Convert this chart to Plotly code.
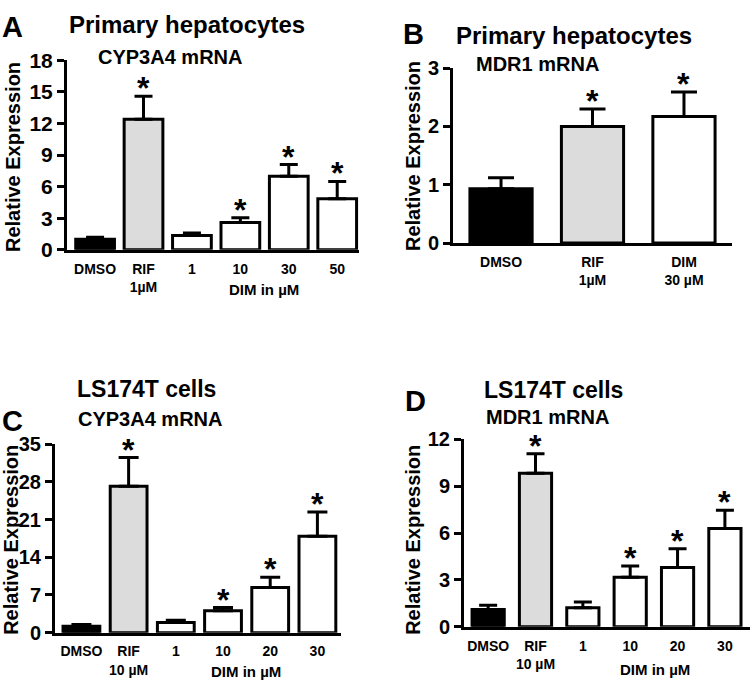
import plotly.graph_objects as go

FONT = "Liberation Sans, Arial, sans-serif"
W, H = 751, 691

# Panel A: primary hepatocytes, CYP3A4 mRNA
a_labels = ["DMSO", "RIF<br>1µM", "1", "10", "30", "50"]
a_values = [1.0, 12.4, 1.35, 2.6, 7.0, 4.85]
a_err = [0.2, 2.2, 0.25, 0.45, 1.1, 1.65]
a_stars = [False, True, False, True, True, True]

# Panel B: primary hepatocytes, MDR1 mRNA
b_labels = ["DMSO", "RIF<br>1µM", "DIM<br>30 µM"]
b_values = [0.93, 2.0, 2.17]
b_err = [0.19, 0.30, 0.42]
b_stars = [False, True, True]

# Panel C: LS174T cells, CYP3A4 mRNA
c_labels = ["DMSO", "RIF<br>10 µM", "1", "10", "20", "30"]
c_values = [1.2, 27.2, 1.9, 4.05, 8.4, 17.9]
c_err = [0.3, 5.3, 0.4, 0.6, 1.9, 4.5]
c_stars = [False, True, False, True, True, True]

# Panel D: LS174T cells, MDR1 mRNA
d_labels = ["DMSO", "RIF<br>10 µM", "1", "10", "20", "30"]
d_values = [1.11, 9.83, 1.22, 3.18, 3.8, 6.29]
d_err = [0.27, 1.24, 0.37, 0.72, 1.19, 1.17]
d_stars = [False, True, False, True, True, True]


def px(x, y):
    return x / W, 1 - y / H


# layout of each panel in screen pixels: x axis span, y axis span (bottom, top)
panels = [
    dict(s="", labels=a_labels, values=a_values, err=a_err, stars=a_stars,
         xs=(67, 359), ys=(246, 50), yr=18, dt=3, xr=(-0.58, 5.45), bw=0.8,
         tick_fs=21, cap=9, line=(1.45, 5.43), line_y=-26,
         colors=["black", "#dcdcdc"] + ["white"] * 4),
    dict(s="2", labels=b_labels, values=b_values, err=b_err, stars=b_stars,
         xs=(453, 732), ys=(239, 58), yr=3, dt=1, xr=(-0.525, 2.525), bw=0.68,
         tick_fs=20, cap=13, line=None,
         colors=["black", "#dcdcdc", "white"]),
    dict(s="3", labels=c_labels, values=c_values, err=c_err, stars=c_stars,
         xs=(55, 341), ys=(642, 447), yr=35, dt=7, xr=(-0.56, 5.5), bw=0.78,
         tick_fs=20, cap=10, line=(1.6, 5.5), line_y=-21,
         colors=["black", "#dcdcdc"] + ["white"] * 4),
    dict(s="4", labels=d_labels, values=d_values, err=d_err, stars=d_stars,
         xs=(464, 750), ys=(636, 442), yr=12, dt=3, xr=(-0.51, 5.53), bw=0.68,
         tick_fs=20, cap=9, line=(1.56, 5.53), line_y=-27,
         colors=["black", "#dcdcdc"] + ["white"] * 4),
]

fig = go.Figure()
annotations = []
shapes = []

for p in panels:
    n = len(p["values"])
    xref, yref = "x" + p["s"], "y" + p["s"]
    fig.add_trace(go.Bar(
        x=list(range(n)), y=p["values"], width=p["bw"],
        marker=dict(color=p["colors"], line=dict(color="black", width=3)),
        error_y=dict(type="data", array=p["err"], arrayminus=[0] * n, symmetric=False,
                     color="black", thickness=3, width=p["cap"]),
        xaxis=xref, yaxis=yref, showlegend=False, hoverinfo="skip",
    ))
    x0, x1 = p["xs"][0] / W, p["xs"][1] / W
    y0, y1 = 1 - p["ys"][0] / H, 1 - p["ys"][1] / H
    fig.layout["xaxis" + p["s"]] = dict(
        domain=[x0, x1], anchor=yref, range=list(p["xr"]),
        tickvals=list(range(n)), ticktext=p["labels"],
        showline=True, linecolor="black", linewidth=3,
        ticks="outside", ticklen=4, tickcolor="rgba(0,0,0,0)",
        tickfont=dict(family=FONT, size=14, color="black", weight="bold"),
        showgrid=False, zeroline=False, fixedrange=True,
    )
    fig.layout["yaxis" + p["s"]] = dict(
        domain=[y0, y1], anchor=xref, range=[0, p["yr"]], dtick=p["dt"],
        showline=True, linecolor="black", linewidth=3,
        ticks="outside", ticklen=7, tickwidth=2.5, tickcolor="black",
        tickfont=dict(family=FONT, size=p["tick_fs"], color="black", weight="bold"),
        showgrid=False, zeroline=False, fixedrange=True,
    )
    # significance stars sit just above the error bar caps
    for i in range(n):
        if p["stars"][i]:
            annotations.append(dict(
                x=i, y=p["values"][i] + p["err"][i], xref=xref, yref=yref,
                text="*", showarrow=False, yanchor="bottom", yshift=-12,
                font=dict(family=FONT, size=32, color="black", weight="bold")))
    if p["line"]:
        shapes.append(dict(
            type="line", xref=xref, yref=yref, ysizemode="pixel", yanchor=0,
            x0=p["line"][0], x1=p["line"][1], y0=p["line_y"], y1=p["line_y"],
            line=dict(color="black", width=2.5)))


def text(x, y, s, size, angle=0):
    xx, yy = px(x, y)
    annotations.append(dict(
        x=xx, y=yy, xref="paper", yref="paper", text=s, showarrow=False,
        xanchor="center", yanchor="middle", textangle=angle,
        font=dict(family=FONT, size=size, color="black", weight="bold")))


# panel letters
text(12, 16, "A", 29)
text(413, 23, "B", 29)
text(13, 423, "C", 29)
text(415, 402, "D", 29)

# titles
text(187, 13, "Primary hepatocytes", 24)
text(170, 47, "CYP3A4 mRNA", 20)
text(574, 24, "Primary hepatocytes", 24)
text(537, 54, "MDR1 mRNA", 20)
text(146, 390, "LS174T cells", 23)
text(150, 421, "CYP3A4 mRNA", 20)
text(553, 391, "LS174T cells", 23)
text(547, 419, "MDR1 mRNA", 20)

# y-axis titles
text(13, 150, "Relative Expression", 20, angle=-90)
text(413, 149, "Relative Expression", 20, angle=-90)
text(11, 546, "Relative Expression", 20, angle=-90)
text(413, 546, "Relative Expression", 20, angle=-90)

# DIM group labels
text(264, 287, "DIM in µM", 15)
text(246, 682, "DIM in µM", 15)
text(655, 680, "DIM in µM", 15)

fig.update_layout(
    width=W, height=H, margin=dict(l=0, r=0, t=0, b=0),
    paper_bgcolor="white", plot_bgcolor="white",
    annotations=annotations, shapes=shapes,
    font=dict(family=FONT, color="black"),
)

fig.write_html("out.html", config={"displayModeBar": False},
               post_script="document.body.style.margin='0px';")
